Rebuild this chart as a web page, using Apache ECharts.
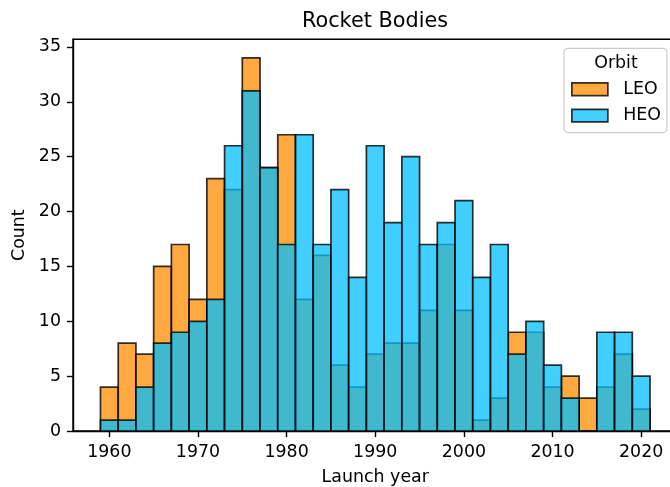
<!DOCTYPE html>
<html>
<head>
<meta charset="utf-8">
<script src="https://cdn.jsdelivr.net/npm/echarts@6/dist/echarts.min.js"></script>
<style>
  html, body { margin: 0; padding: 0; background: #fff; }
  #chart { width: 670px; height: 487px; }
</style>
</head>
<body>
<div id="chart"></div>
<script>
// Histogram bins: left edge of each 2-year bin
const binStarts = [1959, 1961, 1963, 1965, 1967, 1969, 1971, 1973, 1975, 1977,
                   1979, 1981, 1983, 1985, 1987, 1989, 1991, 1993, 1995, 1997,
                   1999, 2001, 2003, 2005, 2007, 2009, 2011, 2013, 2015, 2017, 2019];
const binWidth = 2;

// Rocket body counts per bin, by orbit
const leoCounts = [4, 8, 7, 15, 17, 12, 23, 22, 34, 24, 27, 12, 16, 6, 4, 7,
                   8, 8, 11, 17, 11, 1, 3, 9, 9, 4, 5, 3, 4, 7, 2];
const heoCounts = [1, 1, 4, 8, 9, 10, 12, 26, 31, 24, 17, 27, 17, 22, 14, 26,
                   19, 25, 17, 19, 21, 14, 17, 7, 10, 6, 3, 0, 9, 9, 5];

// Axis ticks
const xTicks = [1960, 1970, 1980, 1990, 2000, 2010, 2020];
const yTicks = [0, 5, 10, 15, 20, 25, 30, 35];

const orbitNames = ['LEO', 'HEO'];
const fillColors = ['rgba(255,140,0,0.75)', 'rgba(0,191,255,0.75)'];
const edgeColor = 'rgba(0,0,0,0.8)';
const FONT = 'DejaVu Sans';
const LABEL_SIZE = 17.4;
const TITLE_SIZE = 20.8;
const EDGE_W = 1.7;
const SPINE_W = 1.4;

function binData(counts) {
  return binStarts.map((s, i) => [s, s + binWidth, counts[i]]);
}

function makeRender(fill) {
  return function (params, api) {
    const p0 = api.coord([api.value(0), 0]);
    const p1 = api.coord([api.value(1), api.value(2)]);
    return {
      type: 'rect',
      shape: { x: p0[0], y: p1[1], width: p1[0] - p0[0], height: p0[1] - p1[1] },
      style: { fill: fill, stroke: edgeColor, lineWidth: EDGE_W }
    };
  };
}

const chart = echarts.init(document.getElementById('chart'), null, { renderer: 'canvas' });

const option = {
  animation: false,
  backgroundColor: '#fff',
  textStyle: { fontFamily: FONT },
  title: [
    {
      text: 'Rocket Bodies',
      left: 375, top: 11, textAlign: 'center', padding: 0,
      textStyle: { fontFamily: FONT, fontSize: TITLE_SIZE, fontWeight: 'normal', color: '#000' }
    },
    {
      text: 'Orbit',
      left: 616, top: 55, textAlign: 'center', padding: 0,
      textStyle: { fontFamily: FONT, fontSize: LABEL_SIZE, fontWeight: 'normal', color: '#000' }
    }
  ],
  legend: {
    orient: 'vertical',
    left: 564, top: 48.3,
    padding: [32.2, 6, 8.2, 7],
    itemWidth: 36, itemHeight: 12.6, itemGap: 8.9,
    backgroundColor: 'rgba(255,255,255,0.8)',
    borderColor: '#cccccc', borderWidth: 1.2, borderRadius: 4,
    textStyle: { fontFamily: FONT, fontSize: LABEL_SIZE, color: '#000', lineHeight: 17.5, padding: [0, 0, 0, 10.4] },
    selectedMode: false,
    data: orbitNames.map((n, i) => ({
      name: n, icon: 'rect',
      itemStyle: { color: fillColors[i], borderColor: edgeColor, borderWidth: EDGE_W }
    }))
  },
  grid: {
    left: 73, top: 39.3, width: 604.5, height: 391.7,
    show: true, borderColor: '#000', borderWidth: SPINE_W, backgroundColor: 'transparent',
    containLabel: false, outerBoundsMode: 'none'
  },
  xAxis: {
    type: 'value', min: 1955.9, max: 2024.1,
    name: 'Launch year', nameLocation: 'middle', nameGap: 37.5,
    nameTextStyle: { fontFamily: FONT, fontSize: LABEL_SIZE, color: '#000' },
    axisLine: { show: true, lineStyle: { color: '#000', width: SPINE_W } },
    axisTick: { show: true, length: 6.1, lineStyle: { color: '#000', width: SPINE_W }, customValues: xTicks },
    axisLabel: {
      margin: 13, fontFamily: FONT, fontSize: LABEL_SIZE, color: '#000', customValues: xTicks,
      formatter: (v) => String(v)
    },
    splitLine: { show: false }
  },
  yAxis: {
    type: 'value', min: 0, max: 35.7,
    name: 'Count', nameLocation: 'middle', nameGap: 35, nameRotate: 90,
    nameTextStyle: { fontFamily: FONT, fontSize: LABEL_SIZE, color: '#000' },
    axisLine: { show: true, lineStyle: { color: '#000', width: SPINE_W } },
    axisTick: { show: true, length: 6.1, lineStyle: { color: '#000', width: SPINE_W }, customValues: yTicks },
    axisLabel: {
      margin: 12, fontFamily: FONT, fontSize: LABEL_SIZE, color: '#000', customValues: yTicks,
      formatter: (v) => String(v)
    },
    splitLine: { show: false }
  },
  series: [leoCounts, heoCounts].map((counts, i) => ({
    type: 'custom',
    name: orbitNames[i],
    renderItem: makeRender(fillColors[i]),
    itemStyle: { color: fillColors[i], borderColor: edgeColor, borderWidth: EDGE_W },
    encode: { x: [0, 1], y: 2 },
    data: binData(counts)
  }))
};

chart.setOption(option);
</script>
</body>
</html>
